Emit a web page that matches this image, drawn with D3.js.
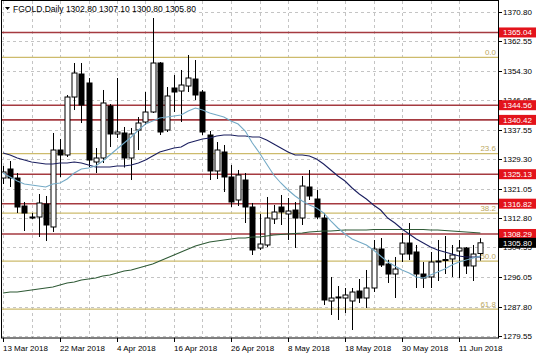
<!DOCTYPE html>
<html>
<head>
<meta charset="utf-8">
<script src="https://cdn.jsdelivr.net/npm/d3@7/dist/d3.min.js"></script>
<style>
  html, body { margin: 0; padding: 0; background: #fff; }
  svg { display: block; }
  text { font-family: "Liberation Sans", Arial, sans-serif; }
</style>
</head>
<body>
<svg id="chart" width="536" height="357"></svg>
<script>
// ---------------- DATA ----------------
const symbolTitle = "FGOLD.Daily";
const xTickLabels = ["13 Mar 2018", "22 Mar 2018", "4 Apr 2018", "16 Apr 2018", "26 Apr 2018",
                     "8 May 2018", "18 May 2018", "30 May 2018", "11 Jun 2018"];
const barsPerLabel = 8;
const barsPerGrid = 4;

const opens = [
  1324.05,1326.59,1324.05,1316.17,1313.07,1313.07,1316.73,1310.26,1331.94,1330.53,
  1346.86,1353.34,1350.81,1328.56,1329.69,1344.33,1336.45,1336.73,1329.69,1337.57,
  1339.82,1342.64,1356.44,1337.57,1349.40,1348.55,1349.96,1351.93,1348.27,1336.16,
  1326.03,1331.38,1324.34,1317.86,1323.49,1315.89,1304.34,1305.19,1312.51,1315.89,
  1313.92,1315.04,1312.79,1321.52,1318.14,1312.79,1289.42,1290.55,1290.26,1289.42,
  1292.23,1290.26,1293.08,1304.06,1299.84,1297.02,1302.65,1305.75,1303.22,1297.02,
  1296.18,1300.68,1300.96,1301.25,1303.50,1304.34,1299.28,1302.80];
const highs = [
  1327.44,1328.84,1325.46,1317.30,1314.20,1319.55,1318.99,1336.73,1335.04,1347.43,
  1356.44,1356.44,1352.22,1332.50,1348.84,1344.89,1352.22,1338.42,1338.14,1341.23,
  1348.27,1369.11,1356.72,1349.68,1353.06,1354.47,1358.69,1357.28,1348.84,1337.29,
  1334.19,1333.35,1327.72,1326.31,1325.46,1317.02,1313.92,1318.71,1316.45,1319.27,
  1318.42,1317.30,1324.62,1326.31,1320.67,1314.20,1296.18,1293.64,1293.08,1293.08,
  1295.61,1298.15,1306.60,1307.16,1301.02,1301.81,1308.57,1311.38,1305.19,1300.40,
  1303.22,1306.60,1307.72,1305.19,1306.60,1304.62,1305.19,1307.10];
const lows = [
  1322.37,1321.52,1314.20,1309.13,1312.50,1307.44,1306.31,1308.85,1324.34,1329.97,
  1343.20,1339.54,1327.15,1325.46,1328.28,1332.78,1335.32,1327.00,1323.49,1331.94,
  1338.98,1342.36,1336.16,1337.01,1342.64,1339.82,1348.27,1346.02,1336.16,1323.49,
  1323.77,1320.11,1315.89,1316.17,1311.38,1302.37,1303.78,1304.62,1311.10,1310.82,
  1306.60,1304.34,1310.82,1317.86,1312.51,1288.30,1285.48,1284.07,1286.04,1281.25,
  1288.86,1287.45,1291.95,1298.99,1294.49,1290.26,1300.40,1300.96,1293.08,1293.08,
  1293.08,1295.05,1297.02,1296.18,1295.89,1297.02,1295.05,1300.80];
const closes = [
  1325.75,1324.05,1315.89,1314.20,1312.93,1317.02,1310.82,1331.94,1330.53,1346.86,
  1353.62,1344.61,1329.12,1329.69,1345.18,1336.45,1337.01,1329.69,1336.45,1339.54,
  1342.64,1356.44,1337.01,1347.15,1348.27,1350.24,1352.22,1347.43,1337.01,1326.03,
  1331.94,1324.34,1317.30,1324.90,1315.89,1303.78,1305.47,1312.79,1314.48,1314.48,
  1314.76,1312.79,1321.80,1318.99,1313.07,1289.70,1290.26,1290.40,1291.11,1291.95,
  1290.26,1293.08,1304.06,1299.56,1297.02,1298.43,1305.75,1302.65,1297.02,1295.89,
  1300.40,1300.55,1301.10,1302.37,1304.34,1299.28,1302.65,1305.80];

// moving averages (fast, medium, slow)
const maFast = [
  1325.46,1324.34,1323.21,1322.37,1322.08,1321.80,1321.52,1322.37,1322.65,1323.77,
  1325.46,1326.59,1326.87,1327.43,1328.84,1330.53,1332.22,1333.91,1335.60,1337.57,
  1339.26,1340.11,1340.95,1341.23,1341.51,1341.80,1342.92,1343.77,1343.20,1342.36,
  1341.80,1341.23,1340.11,1339.26,1337.29,1333.91,1331.10,1328.00,1324.90,1322.65,
  1320.68,1318.99,1317.58,1316.45,1315.61,1314.20,1311.95,1309.98,1308.29,1306.88,
  1306.03,1305.19,1303.78,1302.09,1300.40,1299.28,1298.15,1297.30,1296.18,1295.89,
  1296.74,1297.58,1298.43,1299.56,1300.40,1300.96,1301.53,1302.09];
const maMid = [
  1331.10,1330.53,1329.69,1329.12,1328.56,1328.28,1328.00,1328.00,1328.28,1328.28,
  1328.56,1328.28,1327.72,1327.15,1327.15,1327.15,1327.43,1327.43,1327.72,1328.28,
  1329.12,1330.25,1331.38,1331.94,1332.50,1332.78,1333.91,1334.47,1335.04,1335.32,
  1335.88,1336.16,1336.16,1335.88,1335.88,1335.60,1335.60,1334.76,1333.63,1332.50,
  1331.38,1330.53,1330.53,1330.25,1329.41,1328.00,1326.31,1324.62,1323.21,1321.24,
  1319.55,1318.14,1316.45,1315.04,1312.79,1311.38,1309.69,1308.29,1306.88,1305.75,
  1304.62,1303.78,1303.22,1302.65,1302.09,1301.81,1301.81,1301.81];
const maSlow = [
  1291.67,1291.95,1291.95,1292.23,1292.52,1292.80,1293.08,1293.36,1293.92,1294.49,
  1294.77,1295.33,1295.61,1295.89,1296.46,1296.74,1297.30,1297.87,1298.15,1298.71,
  1299.28,1299.84,1300.68,1301.53,1302.37,1303.22,1304.06,1304.91,1305.47,1306.03,
  1306.31,1306.60,1306.88,1307.16,1307.16,1307.44,1307.44,1307.72,1308.00,1308.15,
  1308.29,1308.43,1308.57,1308.85,1308.99,1309.13,1309.13,1309.27,1309.41,1309.41,
  1309.41,1309.41,1309.55,1309.55,1309.55,1309.55,1309.55,1309.55,1309.55,1309.55,
  1309.41,1309.41,1309.27,1309.13,1308.99,1308.85,1308.71,1308.57];

const levels = [1365.04, 1344.56, 1340.42, 1325.13, 1316.82, 1308.29];
const fibHigh = 1358.0, fibLow = 1243.3;
const fibRatios = [0.0, 23.6, 38.2, 50.0, 61.8];
const yTickLabels = ["1370.80","1362.55","1354.30","1346.05","1337.55","1329.30",
                     "1321.05","1312.80","1304.55","1296.05","1287.80","1279.55"];

// ---------------- LAYOUT ----------------
const W = 536, H = 357;
const plotL = 1, plotR = 498, plotT = 1, plotB = 338;
const svg = d3.select("#chart");

const n = opens.length;
const x = d3.scaleLinear().domain([0, 67]).range([3, 480.375]);
const y = d3.scaleLinear().domain([1279.0, 1373.9]).range([plotB, plotT]);

svg.append("rect").attr("width", W).attr("height", H).attr("fill", "#fff");

svg.append("defs").append("clipPath").attr("id", "clip")
  .append("rect").attr("x", plotL).attr("y", plotT)
  .attr("width", plotR - plotL).attr("height", plotB - plotT);

const plot = svg.append("g").attr("clip-path", "url(#clip)");

// grid
const gridColor = "#c4c4c4";
const gridIdx = d3.range(0, n, barsPerGrid);
plot.selectAll(".vg").data(gridIdx).join("line")
  .attr("x1", d => Math.round(x(d)) + 0.5).attr("x2", d => Math.round(x(d)) + 0.5)
  .attr("y1", plotT).attr("y2", plotB)
  .attr("stroke", gridColor).attr("stroke-dasharray", "3,3").attr("stroke-width", 1);
const yTicks = yTickLabels.map(Number);
plot.selectAll(".hg").data(yTicks).join("line")
  .attr("x1", plotL).attr("x2", plotR)
  .attr("y1", d => Math.round(y(d)) + 0.5).attr("y2", d => Math.round(y(d)) + 0.5)
  .attr("stroke", gridColor).attr("stroke-dasharray", "3,3").attr("stroke-width", 1);

// fibonacci lines
const fibColor = "#cdbb6c";
const fibVals = fibRatios.map(r => fibHigh - (fibHigh - fibLow) * r / 100);
plot.selectAll(".fib").data(fibVals).join("line")
  .attr("x1", plotL).attr("x2", plotR)
  .attr("y1", d => y(d)).attr("y2", d => y(d))
  .attr("stroke", fibColor).attr("stroke-width", 1.2);
plot.selectAll(".fibt").data(fibRatios).join("text")
  .attr("x", 496).attr("y", (d, i) => y(fibVals[i]) - 2.5)
  .attr("text-anchor", "end").attr("font-size", 8).attr("fill", "#bca760")
  .text(d => d.toFixed(1));

// horizontal levels
const lvlColor = "#a53a40";
plot.selectAll(".lvl").data(levels).join("line")
  .attr("x1", plotL).attr("x2", plotR)
  .attr("y1", d => y(d)).attr("y2", d => y(d))
  .attr("stroke", lvlColor).attr("stroke-width", 1.6);

// moving averages (below candles? drawn above)
const bars = d3.range(n);

// candles
const bw = 5;
const cg = plot.append("g");
cg.selectAll(".wick").data(bars).join("line")
  .attr("x1", i => Math.round(x(i)) + 0.5).attr("x2", i => Math.round(x(i)) + 0.5)
  .attr("y1", i => y(highs[i])).attr("y2", i => y(lows[i]))
  .attr("stroke", "#000").attr("stroke-width", 1);
cg.selectAll(".body").data(bars).join("rect")
  .attr("x", i => Math.round(x(i)) - 2 + 0.0)
  .attr("y", i => y(Math.max(opens[i], closes[i])))
  .attr("width", bw)
  .attr("height", i => Math.max(1, Math.abs(y(opens[i]) - y(closes[i]))))
  .attr("fill", i => closes[i] >= opens[i] ? "#fff" : "#000")
  .attr("stroke", "#000").attr("stroke-width", 1);

const line = arr => d3.line().x((d, i) => x(i)).y(d => y(d))(arr);
plot.append("path").attr("d", line(maSlow)).attr("fill", "none")
  .attr("stroke", "#2f5a36").attr("stroke-width", 1.1);
plot.append("path").attr("d", line(maMid)).attr("fill", "none")
  .attr("stroke", "#1c2060").attr("stroke-width", 1.1);
plot.append("path").attr("d", line(maFast)).attr("fill", "none")
  .attr("stroke", "#74aac6").attr("stroke-width", 1.1);

// frame
svg.append("rect").attr("x", plotL + 0.5).attr("y", plotT - 0.5)
  .attr("width", plotR - plotL).attr("height", plotB - plotT + 0.5)
  .attr("fill", "none").attr("stroke", "#000").attr("stroke-width", 1);

// right axis
svg.selectAll(".yt").data(yTicks).join("line")
  .attr("x1", plotR + 0.5).attr("x2", plotR + 4)
  .attr("y1", d => Math.round(y(d)) + 0.5).attr("y2", d => Math.round(y(d)) + 0.5)
  .attr("stroke", "#000");
svg.selectAll(".ytl").data(yTickLabels).join("text")
  .attr("x", 503).attr("y", d => y(+d) + 3)
  .attr("font-size", 8).attr("fill", "#000")
  .text(d => d);

// level price boxes
const boxes = levels.map(v => ({v, fill: "#e3131b"}));
boxes.push({v: closes[n - 1], fill: "#000"});
const bg = svg.selectAll(".box").data(boxes).join("g");
bg.append("rect").attr("x", plotR + 1).attr("y", d => y(d.v) - 5)
  .attr("width", W - plotR - 1).attr("height", 10).attr("fill", d => d.fill);
bg.append("text").attr("x", 503).attr("y", d => y(d.v) + 3)
  .attr("font-size", 8).attr("fill", "#fff").text(d => d.v.toFixed(2));

// bottom axis
const labelIdx = xTickLabels.map((d, i) => i * barsPerLabel);
svg.selectAll(".xt").data(labelIdx).join("line")
  .attr("x1", d => Math.round(x(d)) + 0.5).attr("x2", d => Math.round(x(d)) + 0.5)
  .attr("y1", plotB).attr("y2", plotB + 4).attr("stroke", "#000");
svg.selectAll(".xtl").data(xTickLabels).join("text")
  .attr("x", (d, i) => x(labelIdx[i]))
  .attr("y", 351).attr("font-size", 8).attr("fill", "#000")
  .text(d => d);

// title
svg.append("path").attr("d", "M5,7 L10,7 L7.5,10 Z").attr("fill", "#000");
svg.append("text").attr("x", 13).attr("y", 12).attr("font-size", 8.5).attr("fill", "#000")
  .text(`${symbolTitle}  ${opens[n-1].toFixed(2)} ${highs[n-1].toFixed(2)} ${lows[n-1].toFixed(2)} ${closes[n-1].toFixed(2)}`);
</script>
</body>
</html>
